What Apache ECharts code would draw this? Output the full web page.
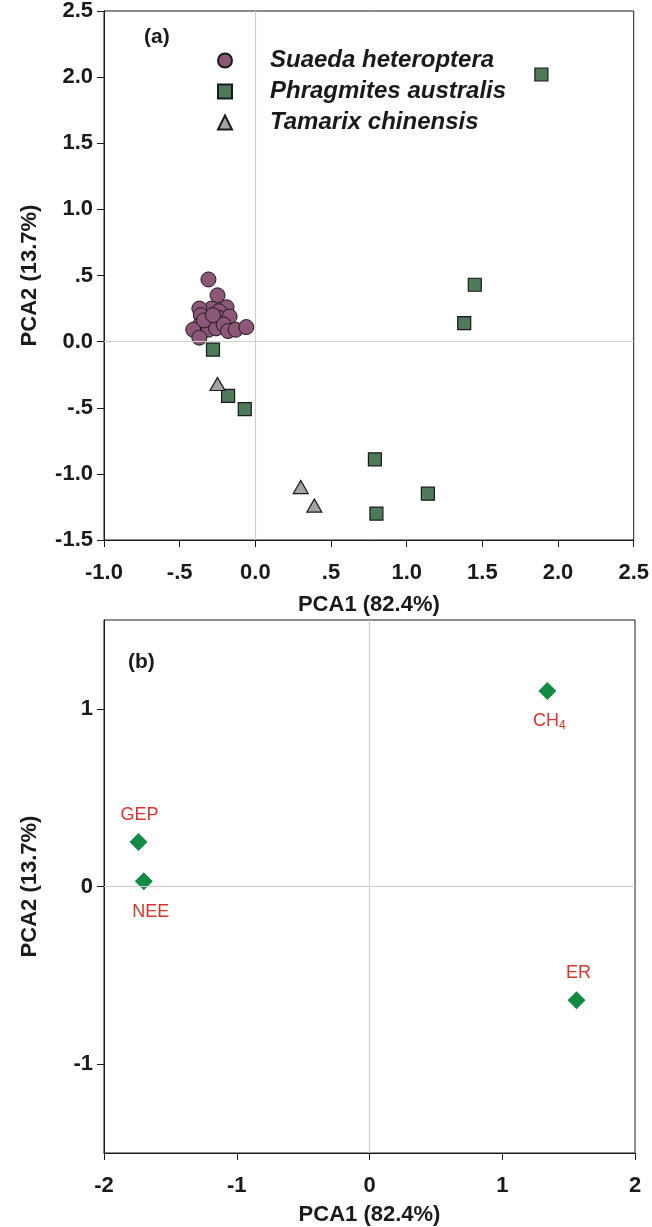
<!DOCTYPE html>
<html>
<head>
<meta charset="utf-8">
<script src="https://cdn.jsdelivr.net/npm/echarts@6/dist/echarts.min.js"></script>
<style>
html,body{margin:0;padding:0;background:#fff;}
#chart{width:652px;height:1227px;}
</style>
</head>
<body>
<div id="chart"></div>
<script>
// ---------- Data: panel (a) PCA scores ----------
const suaedaScores = [
  [-0.31, 0.47], [-0.25, 0.35], [-0.29, 0.25], [-0.37, 0.25], [-0.19, 0.26],
  [-0.24, 0.23], [-0.36, 0.20], [-0.24, 0.18], [-0.17, 0.19], [-0.31, 0.15],
  [-0.37, 0.12], [-0.41, 0.09], [-0.31, 0.09], [-0.26, 0.10], [-0.21, 0.13],
  [-0.18, 0.08], [-0.13, 0.09], [-0.06, 0.11], [-0.37, 0.03], [-0.34, 0.16],
  [-0.28, 0.20]
];
const phragmitesScores = [
  [-0.28, -0.06], [-0.18, -0.41], [-0.07, -0.51], [0.79, -0.89], [0.80, -1.30],
  [1.14, -1.15], [1.38, 0.14], [1.45, 0.43], [1.89, 2.02]
];
const tamarixScores = [
  [-0.25, -0.32], [0.30, -1.10], [0.39, -1.24]
];
const speciesNames = ['Suaeda heteroptera', 'Phragmites australis', 'Tamarix chinensis'];

// ---------- Data: panel (b) loadings ----------
const loadingNames = ['GEP', 'NEE', 'CH4', 'ER'];
const loadingX = [-1.74, -1.70, 1.34, 1.56];
const loadingY = [0.25, 0.03, 1.10, -0.64];

// ---------- Tick labels ----------
const aXTickValues = [-1, -0.5, 0, 0.5, 1, 1.5, 2, 2.5];
const aXTickLabels = ['-1.0', '-.5', '0.0', '.5', '1.0', '1.5', '2.0', '2.5'];
const aYTickValues = [-1.5, -1, -0.5, 0, 0.5, 1, 1.5, 2, 2.5];
const aYTickLabels = ['-1.5', '-1.0', '-.5', '0.0', '.5', '1.0', '1.5', '2.0', '2.5'];
const bXTickValues = [-2, -1, 0, 1, 2];
const bXTickLabels = ['-2', '-1', '0', '1', '2'];
const bYTickValues = [-1, 0, 1];
const bYTickLabels = ['-1', '0', '1'];
const xTitle = 'PCA1 (82.4%)';
const yTitle = 'PCA2 (13.7%)';

// ---------- Styling ----------
const FONT = 'Liberation Sans, Arial, Helvetica, sans-serif';
const RED = '#d6352f';
const INK = '#1a1a1a';
const labelPlacement = {
  GEP: {position: 'top', distance: 9, offset: [1, 0]},
  NEE: {position: 'bottom', distance: 13, offset: [7, 0]},
  CH4: {position: 'bottom', distance: 10, offset: [2, 0]},
  ER:  {position: 'top', distance: 9, offset: [2, 0]}
};

function lookup(values, labels) {
  return function (v) {
    for (let i = 0; i < values.length; i++) {
      if (Math.abs(values[i] - v) < 1e-6) return labels[i];
    }
    return '';
  };
}

const xLabelStyle = {fontFamily: FONT, fontSize: 22, fontWeight: 'bold', color: INK, margin: 22};
const yLabelStyle = {fontFamily: FONT, fontSize: 22, fontWeight: 'bold', color: INK, margin: 11};
const nameStyle = {fontFamily: FONT, fontSize: 22, fontWeight: 'bold', color: INK};
const axisLineStyle = {show: true, onZero: false, lineStyle: {color: INK, width: 1}};
const tickStyle = {show: true, length: 7, lineStyle: {color: INK, width: 1}};
const zeroLine = {
  silent: true, symbol: 'none', label: {show: false},
  lineStyle: {color: '#cfcfcf', type: 'solid', width: 1.2},
  emphasis: {disabled: true},
  data: [{xAxis: 0}, {yAxis: 0}]
};

const chart = echarts.init(document.getElementById('chart'), null, {renderer: 'canvas'});
chart.setOption({
  backgroundColor: '#fff',
  animation: false,
  title: [
    {text: '(a)', left: 139, top: 22, textStyle: {fontFamily: FONT, fontSize: 21, fontWeight: 'bold', color: INK}},
    {text: '(b)', left: 123, top: 647, textStyle: {fontFamily: FONT, fontSize: 21, fontWeight: 'bold', color: INK}}
  ],
  legend: {
    data: speciesNames,
    orient: 'vertical',
    left: 212,
    top: 43,
    itemWidth: 14,
    itemHeight: 14,
    itemGap: 6,
    selectedMode: false,
    textStyle: {fontFamily: FONT, fontSize: 24, fontWeight: 'bold', fontStyle: 'italic', color: INK, padding: [0, 0, 0, 33], lineHeight: 25}
  },
  grid: [
    {left: 104, top: 10, width: 531, height: 530, show: true, borderColor: INK, borderWidth: 1, backgroundColor: 'transparent'},
    {left: 104, top: 620, width: 531, height: 533, show: true, borderColor: INK, borderWidth: 1, backgroundColor: 'transparent'}
  ],
  xAxis: [
    {gridIndex: 0, type: 'value', min: -1, max: 2.5, interval: 0.5,
     axisLine: axisLineStyle, axisTick: tickStyle, splitLine: {show: false},
     axisLabel: Object.assign({}, xLabelStyle, {formatter: lookup(aXTickValues, aXTickLabels)}),
     name: xTitle, nameLocation: 'middle', nameGap: 54, nameTextStyle: nameStyle},
    {gridIndex: 1, type: 'value', min: -2, max: 2, interval: 1,
     axisLine: axisLineStyle, axisTick: tickStyle, splitLine: {show: false},
     axisLabel: Object.assign({}, xLabelStyle, {formatter: lookup(bXTickValues, bXTickLabels)}),
     name: xTitle, nameLocation: 'middle', nameGap: 51, nameTextStyle: nameStyle}
  ],
  yAxis: [
    {gridIndex: 0, type: 'value', min: -1.5, max: 2.5, interval: 0.5,
     axisLine: axisLineStyle, axisTick: tickStyle, splitLine: {show: false},
     axisLabel: Object.assign({}, yLabelStyle, {formatter: lookup(aYTickValues, aYTickLabels)}),
     name: yTitle, nameLocation: 'middle', nameGap: 63, nameRotate: 90, nameTextStyle: nameStyle},
    {gridIndex: 1, type: 'value', min: -1.5, max: 1.5,
     axisLine: axisLineStyle, splitLine: {show: false},
     axisTick: Object.assign({}, tickStyle, {customValues: bYTickValues}),
     axisLabel: Object.assign({}, yLabelStyle, {customValues: bYTickValues, formatter: lookup(bYTickValues, bYTickLabels)}),
     name: yTitle, nameLocation: 'middle', nameGap: 63, nameRotate: 90, nameTextStyle: nameStyle}
  ],
  series: [
    {type: 'scatter', xAxisIndex: 0, yAxisIndex: 0, data: [], z: 1, silent: true, markLine: zeroLine},
    {type: 'scatter', xAxisIndex: 1, yAxisIndex: 1, data: [], z: 1, silent: true, markLine: zeroLine},
    {name: speciesNames[0], type: 'scatter', xAxisIndex: 0, yAxisIndex: 0, z: 3,
     symbol: 'circle', symbolSize: 15, data: suaedaScores,
     itemStyle: {color: '#8d5878', borderColor: INK, borderWidth: 1, opacity: 1}},
    {name: speciesNames[1], type: 'scatter', xAxisIndex: 0, yAxisIndex: 0, z: 3,
     symbol: 'rect', symbolSize: 13, data: phragmitesScores,
     itemStyle: {color: '#4e7a59', borderColor: INK, borderWidth: 1.2, opacity: 1}},
    {name: speciesNames[2], type: 'scatter', xAxisIndex: 0, yAxisIndex: 0, z: 3,
     symbol: 'triangle', symbolSize: [15, 13], data: tamarixScores,
     itemStyle: {color: '#a3a3a3', borderColor: INK, borderWidth: 1.2, opacity: 1}},
    {name: 'loadings', type: 'scatter', xAxisIndex: 1, yAxisIndex: 1, z: 3,
     symbol: 'diamond', symbolSize: 18,
     itemStyle: {color: '#138a45', opacity: 1},
     data: loadingNames.map(function (n, i) {
       const p = labelPlacement[n];
       return {
         name: n, value: [loadingX[i], loadingY[i]],
         label: {show: true, position: p.position, distance: p.distance, offset: p.offset}
       };
     }),
     label: {
       show: true, fontFamily: FONT, fontSize: 18, color: RED,
       formatter: function (d) { return d.name === 'CH4' ? 'CH{sub|4}' : d.name; },
       rich: {sub: {fontFamily: FONT, fontSize: 12, color: RED, verticalAlign: 'bottom', padding: [10, 0, 0, 0]}}
     }}
  ]
});
</script>
</body>
</html>
